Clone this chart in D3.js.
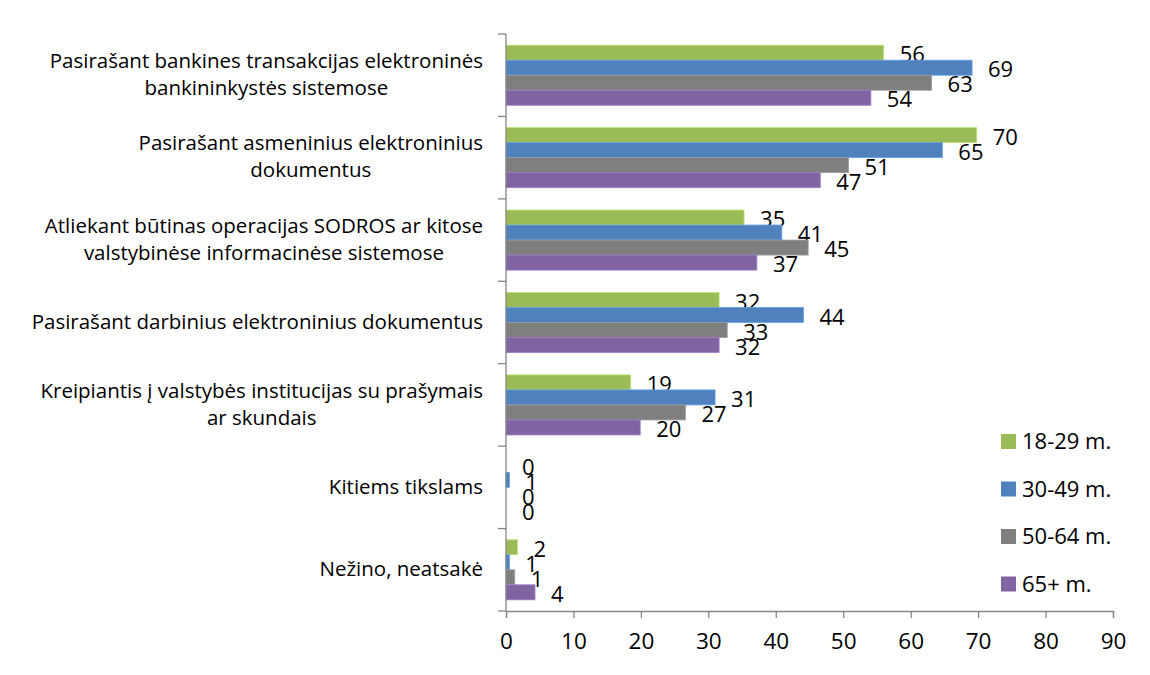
<!DOCTYPE html>
<html>
<head>
<meta charset="utf-8">
<script src="https://cdn.jsdelivr.net/npm/d3@7"></script>
<style>
  body { margin: 0; background: #fff; }
  text { font-family: "Open Sans", sans-serif; fill: #000; }
</style>
</head>
<body>
<div id="chart"></div>
<script>
// categories (top to bottom), "\n" marks a line break in the label
var categories = [
  "Pasirašant bankines transakcijas elektroninės\nbankininkystės sistemose",
  "Pasirašant asmeninius elektroninius\ndokumentus",
  "Atliekant būtinas operacijas SODROS ar kitose\nvalstybinėse informacinėse sistemose",
  "Pasirašant darbinius elektroninius dokumentus",
  "Kreipiantis į valstybės institucijas su prašymais\nar skundais",
  "Kitiems tikslams",
  "Nežino, neatsakė"
];

var series = ["18-29 m.", "30-49 m.", "50-64 m.", "65+ m."];
var colors = ["#9BBB59", "#4F81BD", "#7F7F7F", "#8064A2"];

var v18_29 = [56.0, 69.8, 35.3, 31.6, 18.5, 0, 1.7];
var v30_49 = [69.1, 64.7, 40.9, 44.1, 31.0, 0.5, 0.5];
var v50_64 = [63.1, 50.8, 44.8, 32.8, 26.6, 0, 1.3];
var v65 = [54.1, 46.6, 37.2, 31.6, 19.9, 0, 4.3];

var xTicks = [0, 10, 20, 30, 40, 50, 60, 70, 80, 90];

var values = [v18_29, v30_49, v50_64, v65];

var width = 1150, height = 675;
var plotLeft = 506, plotRight = 1113, plotTop = 34, plotBottom = 611;

var svg = d3.select("#chart").append("svg")
  .attr("width", width)
  .attr("height", height);

var x = d3.scaleLinear().domain([0, 90]).range([plotLeft, plotRight]);

var y0 = d3.scaleBand().domain(d3.range(categories.length)).range([plotTop, plotBottom]);

var y1 = d3.scaleBand().domain(d3.range(series.length))
  .range([0, y0.bandwidth()])
  .paddingOuter(0.745);

// bars
var groups = svg.selectAll(".cat")
  .data(categories)
  .enter().append("g")
  .attr("class", "cat")
  .attr("transform", function (d, i) { return "translate(0," + y0(i) + ")"; });

groups.each(function (c, ci) {
  var g = d3.select(this);
  series.forEach(function (s, si) {
    var v = values[si][ci];
    if (v > 0) {
      g.append("rect")
        .attr("x", x(0))
        .attr("y", y1(si))
        .attr("width", x(v) - x(0))
        .attr("height", y1.bandwidth())
        .attr("fill", colors[si])
        .attr("stroke", d3.color(colors[si]).brighter(0.6))
        .attr("stroke-width", 0.8);
    }
    g.append("text")
      .attr("x", x(v) + 16)
      .attr("y", y1(si) + y1.bandwidth() / 2 + 2)
      .attr("dy", "0.35em")
      .style("font-size", "22px")
      .text(Math.round(v));
  });
});

// x axis
var xAxis = d3.axisBottom(x).tickValues(xTicks).tickSize(7).tickPadding(15);
var gx = svg.append("g")
  .attr("transform", "translate(0," + plotBottom + ")")
  .call(xAxis);
gx.select(".domain").attr("stroke", "#868686").attr("stroke-width", 1.3);
gx.selectAll(".tick line").attr("stroke", "#868686").attr("stroke-width", 1.3);
gx.selectAll(".tick text").style("font-size", "22.5px").style("font-family", "Open Sans, sans-serif").attr("fill", "#000");

// y axis line with ticks between categories
svg.append("line")
  .attr("x1", plotLeft).attr("x2", plotLeft)
  .attr("y1", plotTop).attr("y2", plotBottom)
  .attr("stroke", "#868686").attr("stroke-width", 1.3);

svg.selectAll(".ytick")
  .data(d3.range(categories.length + 1))
  .enter().append("line")
  .attr("x1", plotLeft - 8).attr("x2", plotLeft)
  .attr("y1", function (i) { return plotTop + i * y0.step(); })
  .attr("y2", function (i) { return plotTop + i * y0.step(); })
  .attr("stroke", "#868686").attr("stroke-width", 1.3);

// category labels: lines centred on each other, block right-aligned
var lineH = 27;
groups.each(function (c, ci) {
  var g = d3.select(this);
  var lines = c.split("\n");
  var t = g.append("text")
    .style("font-size", "20.5px")
    .attr("text-anchor", "middle");
  lines.forEach(function (l, li) {
    t.append("tspan")
      .attr("x", 0)
      .attr("y", y0.bandwidth() / 2 - 1 + (li - (lines.length - 1) / 2) * lineH)
      .attr("dy", "0.35em")
      .text(l);
  });
  var w = d3.max(t.selectAll("tspan").nodes(), function (n) { return n.getComputedTextLength(); });
  t.selectAll("tspan").attr("x", 483 - w / 2);
});

// legend
var legend = svg.selectAll(".legend")
  .data(series)
  .enter().append("g")
  .attr("class", "legend")
  .attr("transform", function (d, i) { return "translate(1001," + (441.5 + i * 47.5) + ")"; });

legend.append("rect")
  .attr("x", 0).attr("y", -7.5)
  .attr("width", 15).attr("height", 15)
  .attr("fill", function (d, i) { return colors[i]; });

legend.append("text")
  .attr("x", 21)
  .attr("dy", "0.35em")
  .style("font-size", "22px")
  .text(function (d) { return d; });
</script>
</body>
</html>
